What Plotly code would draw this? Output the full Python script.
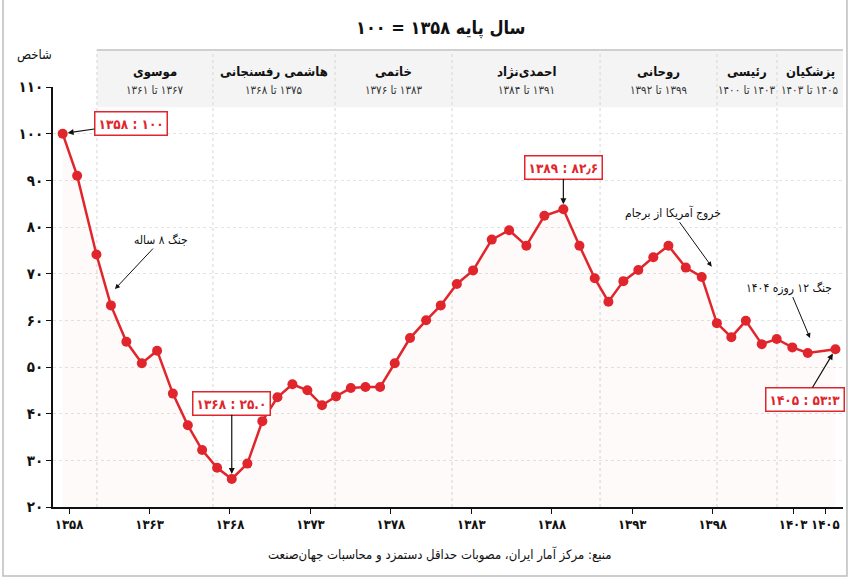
import plotly.graph_objects as go

# ---------------- data ----------------
# time position of each wage decision (Solar Hijri year)
period_x = [1357.6, 1358.5, 1359.7, 1360.6, 1361.56, 1362.52, 1363.47, 1364.45, 1365.38, 1366.27,
            1367.2, 1368.11, 1369.08, 1370.01, 1370.95, 1371.88, 1372.81, 1373.72, 1374.59, 1375.51,
            1376.42, 1377.33, 1378.24, 1379.19, 1380.19, 1381.1, 1382.1, 1383.11, 1384.27, 1385.35,
            1386.42, 1387.54, 1388.72, 1389.72, 1390.67, 1391.52, 1392.45, 1393.38, 1394.31, 1395.25,
            1396.33, 1397.32, 1398.26, 1399.16, 1400.06, 1401.05, 1401.98, 1402.95, 1403.91, 1405.63]
index_values = [100, 91.0, 74.1, 63.2, 55.4, 50.8, 53.5, 44.3, 37.5, 32.2,
                28.4, 26.0, 29.3, 38.4, 43.5, 46.3, 45.0, 41.8, 43.7, 45.5,
                45.7, 45.7, 50.8, 56.2, 60.0, 63.2, 67.8, 70.7, 77.3, 79.3,
                76.0, 82.4, 83.8, 76.0, 69.0, 64.0, 68.4, 70.8, 73.5, 76.0,
                71.3, 69.3, 59.4, 56.4, 59.9, 54.9, 56.0, 54.2, 53.0, 53.8]

x_tickvals = [1358, 1363, 1368, 1373, 1378, 1383, 1388, 1393, 1398, 1403, 1405]
x_ticktext = ["۱۳۵۸", "۱۳۶۳", "۱۳۶۸", "۱۳۷۳", "۱۳۷۸", "۱۳۸۳", "۱۳۸۸", "۱۳۹۳", "۱۳۹۸", "۱۴۰۳", "۱۴۰۵"]
y_tickvals = [20, 30, 40, 50, 60, 70, 80, 90, 100, 110]
y_ticktext = ["۲۰", "۳۰", "۴۰", "۵۰", "۶۰", "۷۰", "۸۰", "۹۰", "۱۰۰", "۱۱۰"]

# presidential periods
period_names = ["موسوی", "هاشمی رفسنجانی", "خاتمی", "احمدی‌نژاد", "روحانی", "رئیسی", "پزشکیان"]
period_from = ["۱۳۶۱", "۱۳۶۸", "۱۳۷۶", "۱۳۸۴", "۱۳۹۲", "۱۴۰۰", "۱۴۰۳"]
period_to = ["۱۳۶۷", "۱۳۷۵", "۱۳۸۳", "۱۳۹۱", "۱۳۹۹", "۱۴۰۳", "۱۴۰۵"]
period_bounds = [1359.73, 1366.94, 1374.53, 1381.80, 1391.0, 1398.27, 1402.0, 1406.1]

RED = "#e0262c"
FONT = "DejaVu Sans Condensed, DejaVu Sans"

fig = go.Figure()
fig.add_trace(go.Scatter(
    x=period_x, y=index_values, mode="lines+markers",
    line=dict(color=RED, width=2.5),
    marker=dict(color=RED, size=10),
    fill="tozeroy", fillcolor="rgba(230,60,60,0.025)",
    hoverinfo="skip", showlegend=False))

shapes = []
# figure frame
shapes.append(dict(type="rect", xref="paper", yref="paper", x0=-0.0633, x1=1.005, y0=-0.1643, y1=1.25,
                   line=dict(color="#bdbdbd", width=1.5), layer="below"))
# header band
shapes.append(dict(type="rect", xref="x", yref="paper", x0=period_bounds[0], x1=period_bounds[-1],
                   y0=0.952, y1=1.088, fillcolor="#f4f4f4", line=dict(width=0), layer="below"))
shapes.append(dict(type="line", xref="x", yref="paper", x0=period_bounds[0], x1=period_bounds[-1],
                   y0=1.088, y1=1.088, line=dict(color="#cfcfcf", width=2), layer="below"))
for b in period_bounds[:-1]:
    shapes.append(dict(type="line", xref="x", yref="paper", x0=b, x1=b, y0=0, y1=1.088,
                       line=dict(color="#d6d6d6", width=1, dash="dot"), layer="below"))

ann = []
for i, name in enumerate(period_names):
    xc = (period_bounds[i] + period_bounds[i + 1]) / 2
    ann.append(dict(x=xc, y=1.036, xref="x", yref="paper", text="<b>" + name + "</b>", showarrow=False,
                    xanchor="center", yanchor="middle",
                    font=dict(size=13, color="#111", family=FONT)))
    ann.append(dict(x=xc, y=0.993, xref="x", yref="paper",
                    text="\u200e" + period_from[i] + " تا \u200e" + period_to[i], showarrow=False,
                    xanchor="center", yanchor="middle",
                    font=dict(size=11.5, color="#333", family=FONT)))

ann.append(dict(x=0.49, y=1.1405, xref="paper", yref="paper", text="<b>سال پایه ۱۳۵۸ = ۱۰۰</b>",
                showarrow=False, xanchor="center", yanchor="middle",
                font=dict(size=18, color="#111", family=FONT)))
ann.append(dict(x=-0.0228, y=1.076, xref="paper", yref="paper", text="شاخص",
                showarrow=False, xanchor="center", yanchor="middle",
                font=dict(size=13, color="#111", family=FONT)))
ann.append(dict(x=0.49, y=-0.114, xref="paper", yref="paper",
                text="منبع: مرکز آمار ایران، مصوبات حداقل دستمزد و محاسبات جهان‌صنعت",
                showarrow=False, xanchor="center", yanchor="middle",
                font=dict(size=13, color="#111", family=FONT)))

def boxed(i, text, ax, ay):
    return dict(x=period_x[i], y=index_values[i], xref="x", yref="y", text="<b>" + text + "</b>",
                showarrow=True, ax=ax, ay=ay, arrowhead=2, arrowsize=1, arrowwidth=1.2,
                arrowcolor="#111", standoff=5, bgcolor="white", bordercolor=RED, borderwidth=1.5,
                borderpad=3, font=dict(size=13.5, color=RED, family=FONT))

ann.append(boxed(0, "۱۳۵۸ : ۱۰۰", 68, -10))
ann.append(boxed(11, "۱۳۶۸ : ۲۵.۰", 0, -76))
ann.append(boxed(32, "۱۳۸۹ : ۸۲٫۶", 0, -42))
ann.append(boxed(49, "۱۴۰۵ : ۵۳:۳", -30, 50))

def note(x, y, text, ax, ay):
    return dict(x=x, y=y, xref="x", yref="y", text=text, showarrow=True, ax=ax, ay=ay,
                arrowhead=2, arrowsize=1, arrowwidth=1, arrowcolor="#111",
                font=dict(size=12, color="#111", family=FONT))

ann.append(note(1360.85, 66.7, "جنگ ۸ ساله", 46, -49))
ann.append(note(1397.94, 71.5, "خروج آمریکا از برجام", -39, -54))
ann.append(note(1404.05, 56.2, "جنگ ۱۲ روزه ۱۴۰۴", -21, -50))

fig.update_layout(
    width=850, height=579,
    margin=dict(l=53, r=7, t=87, b=72),
    paper_bgcolor="white", plot_bgcolor="white",
    font=dict(family=FONT, color="#111"),
    shapes=shapes, annotations=ann,
    xaxis=dict(range=[1357.0, 1406.1], tickvals=x_tickvals,
               ticktext=["<b>" + t + "</b>" for t in x_ticktext], tickangle=0,
               showgrid=False, zeroline=False, showline=True, linecolor="#111", linewidth=1.5,
               ticks="outside", ticklen=5, tickcolor="#111",
               tickfont=dict(size=13, color="#111", family=FONT)),
    yaxis=dict(range=[20, 110], tickvals=y_tickvals,
               ticktext=["<b>" + t + "</b>" for t in y_ticktext],
               showgrid=True, gridcolor="#e4e4e4", griddash="dot", gridwidth=1,
               zeroline=False, showline=True, linecolor="#111", linewidth=1.5,
               ticks="outside", ticklen=5, tickcolor="#111",
               tickfont=dict(size=15, color="#111", family=FONT)),
)

fig.write_html("out.html", config={"displayModeBar": False},
               post_script="document.body.style.margin='0';document.body.style.padding='0';"
                           "document.body.style.overflow='hidden';")
